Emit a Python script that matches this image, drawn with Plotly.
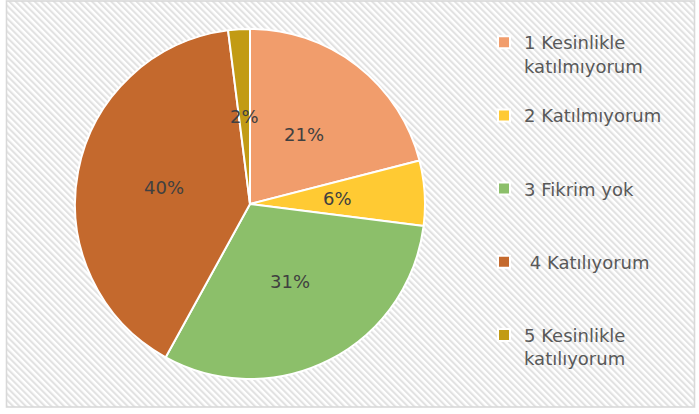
import base64
import math
import plotly.graph_objects as go

# ---- data ----
categories = ["1 Kesinlikle katılmıyorum", "2 Katılmıyorum", "3 Fikrim yok",
              " 4 Katılıyorum", "5 Kesinlikle katılıyorum"]
values = [21, 6, 31, 40, 2]
colors = ["#F19D6C", "#FFCA33", "#8CBF6A", "#C4692D", "#C29B14"]

FONT = "DejaVu Sans"
W, H = 699, 414


def legend_label(c, n_lines=3):
    c = c.replace("Kesinlikle ", "Kesinlikle<br>")
    if c.startswith(" "):
        c = "\u00a0" + c[1:]
    lines = c.split("<br>")
    while len(lines) < n_lines:
        lines.append("\u00a0")
    return "<br>".join(lines)


labels = [legend_label(c) for c in categories]

# pie domain (paper fractions)
dom_x = [75 / W, 425 / W]
dom_y = [(H - 379) / H, (H - 29) / H]
radius_px = min((dom_x[1] - dom_x[0]) * W, (dom_y[1] - dom_y[0]) * H) / 2
cx = (dom_x[0] + dom_x[1]) / 2
cy = (dom_y[0] + dom_y[1]) / 2

# data labels at the middle of each slice (half radius), Excel-style
total = sum(values)
annotations = []
cum = 0.0
for v in values:
    mid = (cum + v / 2) / total * 2 * math.pi  # clockwise from 12 o'clock
    cum += v
    r = 0.5 * radius_px
    annotations.append(dict(
        x=cx + r * math.sin(mid) / W, y=cy + r * math.cos(mid) / H,
        xref="paper", yref="paper", showarrow=False,
        text=f"{round(100 * v / total)}%",
        font=dict(family=FONT, size=18, color="#404040"),
        xanchor="center", yanchor="middle",
    ))

# hatched background with light border
svg = f'''<svg xmlns="http://www.w3.org/2000/svg" width="{W}" height="{H}" viewBox="0 0 {W} {H}">
<defs><pattern id="h" patternUnits="userSpaceOnUse" width="4.5" height="4.5" patternTransform="rotate(-45)">
<rect width="4.5" height="4.5" fill="#ffffff"/><rect width="2.1" height="4.5" fill="#e2e2e2"/></pattern></defs>
<rect width="{W}" height="{H}" fill="#ffffff"/>
<rect x="6.5" y="1" width="688" height="406" fill="url(#h)" stroke="#d9d9d9" stroke-width="1.6"/>
</svg>'''
bg_uri = "data:image/svg+xml;base64," + base64.b64encode(svg.encode()).decode()

fig = go.Figure(go.Pie(
    labels=labels,
    values=values,
    sort=False,
    direction="clockwise",
    rotation=0,
    marker=dict(colors=colors, line=dict(color="#ffffff", width=2)),
    textinfo="none",
    hoverinfo="label+percent",
    domain=dict(x=dom_x, y=dom_y),
))

fig.update_layout(
    width=W, height=H,
    margin=dict(l=0, r=0, t=0, b=0, pad=0),
    paper_bgcolor="#ffffff",
    plot_bgcolor="rgba(0,0,0,0)",
    images=[dict(source=bg_uri, xref="paper", yref="paper", x=0, y=1,
                 sizex=1, sizey=1, sizing="stretch", layer="below",
                 xanchor="left", yanchor="top")],
    annotations=annotations,
    legend=dict(
        x=484 / W, y=1 - 24 / H, xanchor="left", yanchor="top",
        font=dict(family=FONT, size=18, color="#595959"),
        bgcolor="rgba(0,0,0,0)",
        valign="top",
        itemclick=False, itemdoubleclick=False,
    ),
    showlegend=True,
)

fig.write_html("out.html", config={"displayModeBar": False},
               post_script="document.body.style.margin='0px';")
